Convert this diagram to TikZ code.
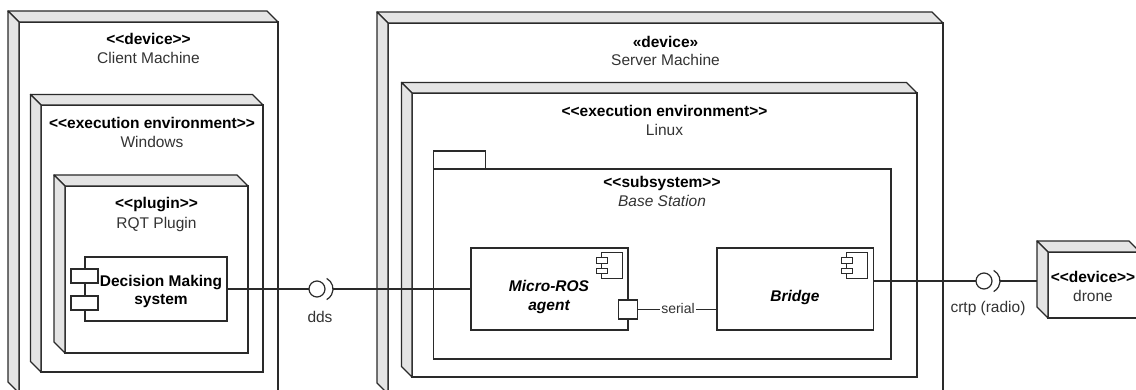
\documentclass[tikz,border=0pt]{standalone}
\usepackage{fontspec}
\setmainfont{Liberation Sans}[Ligatures=TeXOff]
\newcommand\fs{\fontsize{15.5}{18}\selectfont}
\newcommand\fss{\fontsize{14}{16}\selectfont}
\definecolor{ln}{HTML}{2A2A2A}
\definecolor{txt}{HTML}{333333}
\definecolor{side}{HTML}{E4E4E4}
\tikzset{
  front/.style={draw=ln, fill=white, line width=1.3pt, inner sep=0pt, outer sep=0pt, anchor=north west},
  face/.style={draw=ln, fill=side, line width=1.3pt, line join=round},
  part/.style={draw=ln, fill=white, line width=1.2pt},
  wire/.style={draw=ln, line width=1.2pt},
  st/.style={font=\bfseries\fs, anchor=base, inner sep=0pt, text=black},
  nm/.style={font=\fs, anchor=base, inner sep=0pt, text=txt},
  ball/.style={circle, draw=ln, fill=white, line width=1.2pt, minimum size=16pt, inner sep=0pt, outer sep=0pt},
}
% depth faces of a 3D node: top and left slabs behind the front rectangle
\newcommand\solidfaces[2]{%
  \filldraw[face] (#1.north west) -- ++(-#2,-#2) -- ([shift={(-#2,-#2)}]#1.north east) -- (#1.north east) -- cycle;
  \filldraw[face] (#1.north west) -- ++(-#2,-#2) -- ([shift={(-#2,-#2)}]#1.south west) -- (#1.south west) -- cycle;
}
% small UML component glyph in the top right corner: outer box and two tabs
\newcommand\compglyph[1]{%
  \draw[part, line width=1pt] ($(#1)+(-27,5)$) rectangle ($(#1)+(-6,31)$);
  \draw[part, line width=1pt] ($(#1)+(-32,10)$) rectangle ($(#1)+(-21,16)$);
  \draw[part, line width=1pt] ($(#1)+(-32,21)$) rectangle ($(#1)+(-21,26)$);
}
\usetikzlibrary{calc}
\begin{document}
\begin{tikzpicture}[x=1pt, y=-1pt]
\useasboundingbox (0,0) rectangle (1136,390);
\fill[white] (0,0) rectangle (1136,390);
\clip (0,0) rectangle (1136,390);

% ---------- client side ----------
\node[front, minimum width=259pt, minimum height=371pt] (client) at (19,22) {};
\solidfaces{client}{11}
\node[st] (clientst) at (148.5,44.5) {<<device>>};
\node[nm] (clientnm) at (148.5,63.5) {Client Machine};

\node[front, minimum width=222pt, minimum height=267pt] (win) at (41,105) {};
\solidfaces{win}{10.5}
\node[st] (winst) at (152,128.5) {<<execution environment>>};
\node[nm] (winnm) at (152,147.5) {Windows};

\node[front, minimum width=183pt, minimum height=167pt] (plugin) at (65,186) {};
\solidfaces{plugin}{11}
\node[st] (pluginst) at (156.5,208.5) {<<plugin>>};
\node[nm] (pluginnm) at (156.5,228.5) {RQT Plugin};

\node[front, line width=1.2pt, minimum width=142pt, minimum height=64pt] (dms) at (85,257) {};
\draw[part] (71,269) rectangle (98,283);
\draw[part] (71,296) rectangle (98,310);
\node[st] (dmsa) at (161,286.5) {Decision Making};
\node[st] (dmsb) at (161,304.5) {system};

% ---------- server side ----------
\node[front, minimum width=555pt, minimum height=371pt] (server) at (388,23) {};
\solidfaces{server}{11}
\node[st] (serverst) at (665.5,47.5) {«device»};
\node[nm] (servernm) at (665.5,65.5) {Server Machine};

\node[front, minimum width=505pt, minimum height=284pt] (linux) at (412,93) {};
\solidfaces{linux}{10.5}
\node[st] (linuxst) at (664.5,116.5) {<<execution environment>>};
\node[nm] (linuxnm) at (664.5,135.5) {Linux};

% package with its tab
\node[front, line width=1.2pt, minimum width=52pt, minimum height=18pt] (pkgtab) at (433.5,151) {};
\node[front, line width=1.2pt, minimum width=457.5pt, minimum height=190pt] (pkg) at (433.5,169) {};
\node[st] (pkgst) at (662,187.5) {<<subsystem>>};
\node[nm, font=\itshape\fs] (pkgnm) at (662,206.5) {Base Station};

\node[front, line width=1.2pt, minimum width=157pt, minimum height=82pt] (mros) at (471,248) {};
\compglyph{mros.north east}
\node[st, font=\bfseries\itshape\fs] (mrosa) at (549,291.5) {Micro-ROS};
\node[st, font=\bfseries\itshape\fs] (mrosb) at (549,310.5) {agent};
\node[part, minimum size=19pt, inner sep=0pt, outer sep=0pt] (port) at (628,309.5) {};

\node[front, line width=1.2pt, minimum width=156.5pt, minimum height=82pt] (bridge) at (717,248) {};
\compglyph{bridge.north east}
\node[st, font=\bfseries\itshape\fs] (bridgenm) at (795,301.5) {Bridge};

% ---------- drone ----------
\node[front, minimum width=92pt, minimum height=66pt] (drone) at (1048,252) {};
\solidfaces{drone}{11}
\node[st] (dronest) at (1093,282.5) {<<device>>};
\node[nm] (dronenm) at (1093,301.5) {drone};

% ---------- interfaces and links ----------
\node[ball] (dds) at (317,289) {};
\draw[wire] ([shift={(4,0)}]dds.center) ++(-62:12) arc[start angle=-62, end angle=62, radius=12];
\coordinate (ddsout) at ([shift={(16,0)}]dds.center);
\node[nm] (ddslbl) at (320,322.5) {dds};
\draw[wire] (dms.east) -- (dds.west);
\draw[wire] (ddsout) -- (mros.west);

\node[ball] (crtp) at (984,281) {};
\draw[wire] ([shift={(4,0)}]crtp.center) ++(-62:12) arc[start angle=-62, end angle=62, radius=12];
\coordinate (crtpout) at ([shift={(16,0)}]crtp.center);
\node[nm] (crtplbl) at (988,312.5) {crtp (radio)};
\draw[wire] (bridge.east |- crtp) -- (crtp.west);
\draw[wire] (crtpout) -- (1037,281);

\draw[wire] (port.east) -- (bridge.west |- port);
\node[nm, font=\fss, fill=white, inner xsep=1pt, inner ysep=0pt] (seriallbl) at (678,314) {serial};
\end{tikzpicture}
\end{document}
